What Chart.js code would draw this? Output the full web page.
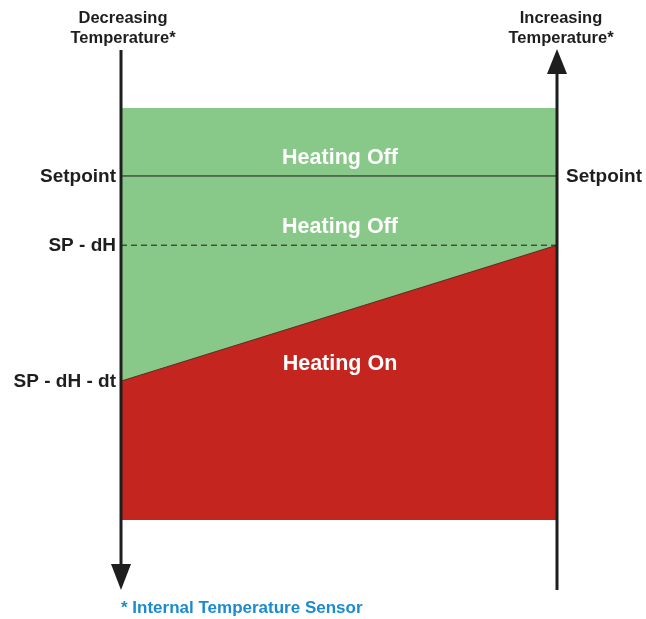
<!DOCTYPE html>
<html>
<head>
<meta charset="utf-8">
<script src="https://cdn.jsdelivr.net/npm/chart.js@4"></script>
<style>
  html, body { margin: 0; padding: 0; background: #fff; }
  #wrap { width: 646px; height: 619px; }
</style>
</head>
<body>
<div id="wrap"><canvas id="c"></canvas></div>
<script>
// threshold levels (y units, 0 = bottom of band, 100 = top of band)
const levelNames = ['Setpoint', 'SP - dH', 'SP - dH - dt'];
const levelValues = [83.5, 66.7, 33.7];
const bandTop = 100;

// x runs from the decreasing side (0) to the increasing side (1)
const xEnds = [0, 1];

const regionNames = ['Heating Off', 'Heating Off', 'Heating On'];
const regionY = [87.9, 71.1, 37.9];

const axisTitles = ['Decreasing\nTemperature*', 'Increasing\nTemperature*'];
const footnote = '* Internal Temperature Sensor';

const GREEN = '#88c888';
const RED = '#c4251f';
const INK = '#1e1e1e';
const FONT = '"Liberation Sans", Arial, sans-serif';

const overlay = {
  id: 'overlay',
  afterDatasetsDraw(chart) {
    const { ctx, chartArea: a, scales } = chart;
    const xs = scales.x, ys = scales.y;
    const L = xs.getPixelForValue(xEnds[0]);
    const R = xs.getPixelForValue(xEnds[1]);
    ctx.save();

    // axis arrows
    ctx.strokeStyle = INK;
    ctx.fillStyle = INK;
    ctx.lineWidth = 3;
    ctx.beginPath();
    ctx.moveTo(L, a.top - 58); ctx.lineTo(L, a.bottom + 50);
    ctx.stroke();
    ctx.beginPath();
    ctx.moveTo(L - 10, a.bottom + 44); ctx.lineTo(L + 10, a.bottom + 44); ctx.lineTo(L, a.bottom + 70);
    ctx.closePath(); ctx.fill();

    ctx.beginPath();
    ctx.moveTo(R, a.bottom + 70); ctx.lineTo(R, a.top - 40);
    ctx.stroke();
    ctx.beginPath();
    ctx.moveTo(R - 10, a.top - 34); ctx.lineTo(R + 10, a.top - 34); ctx.lineTo(R, a.top - 59);
    ctx.closePath(); ctx.fill();

    // axis titles
    ctx.font = 'bold 16.5px ' + FONT;
    ctx.textAlign = 'center';
    ctx.textBaseline = 'middle';
    const tl = axisTitles[0].split('\n'), tr = axisTitles[1].split('\n');
    tl.forEach((t, i) => ctx.fillText(t, L + 2, 18 + i * 20));
    tr.forEach((t, i) => ctx.fillText(t, R + 4, 18 + i * 20));

    // level labels
    ctx.font = 'bold 19px ' + FONT;
    ctx.textAlign = 'right';
    levelNames.forEach((n, i) => {
      ctx.fillText(n, L - 5, ys.getPixelForValue(levelValues[i]) + 1);
    });
    ctx.textAlign = 'left';
    ctx.fillText(levelNames[0], R + 9, ys.getPixelForValue(levelValues[0]) + 1);

    // region labels
    ctx.fillStyle = '#ffffff';
    ctx.font = 'bold 21.5px ' + FONT;
    ctx.textAlign = 'center';
    regionNames.forEach((n, i) => {
      ctx.fillText(n, (L + R) / 2 + 1, ys.getPixelForValue(regionY[i]));
    });

    // footnote
    ctx.fillStyle = '#1b8bd0';
    ctx.font = 'bold 17px ' + FONT;
    ctx.textAlign = 'left';
    ctx.fillText(footnote, L, a.bottom + 88);
    ctx.restore();
  }
};

new Chart(document.getElementById('c'), {
  type: 'line',
  data: {
    datasets: [
      {
        label: 'Heating Off',
        data: xEnds.map(x => ({ x, y: bandTop })),
        borderWidth: 0,
        backgroundColor: GREEN,
        fill: 'start',
        pointRadius: 0,
        order: 4
      },
      {
        label: 'Heating On',
        data: [{ x: xEnds[0], y: levelValues[2] }, { x: xEnds[1], y: levelValues[1] }],
        borderColor: '#5a2a20',
        borderWidth: 1,
        backgroundColor: RED,
        fill: 'start',
        pointRadius: 0,
        order: 3
      },
      {
        label: 'Setpoint',
        data: xEnds.map(x => ({ x, y: levelValues[0] })),
        borderColor: '#1a1a1a',
        borderWidth: 1,
        fill: false,
        pointRadius: 0,
        order: 2
      },
      {
        label: 'SP - dH',
        data: xEnds.map(x => ({ x, y: levelValues[1] })),
        borderColor: '#1a1a1a',
        borderWidth: 1,
        borderDash: [6, 4],
        fill: false,
        pointRadius: 0,
        order: 1
      }
    ]
  },
  options: {
    responsive: true,
    maintainAspectRatio: false,
    animation: false,
    layout: { padding: { left: 121, right: 89, top: 108, bottom: 99 } },
    plugins: { legend: { display: false }, tooltip: { enabled: false } },
    scales: {
      x: { type: 'linear', min: 0, max: 1, display: false },
      y: { type: 'linear', min: 0, max: 100, display: false }
    }
  },
  plugins: [overlay]
});
</script>
</body>
</html>
